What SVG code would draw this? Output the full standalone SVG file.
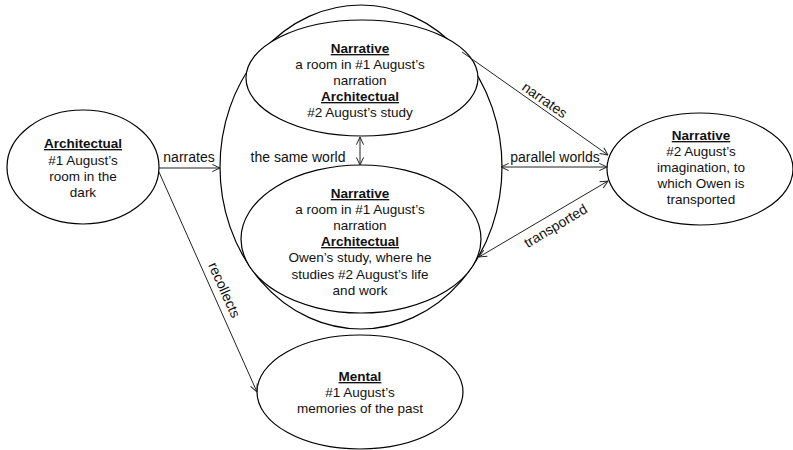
<svg xmlns="http://www.w3.org/2000/svg" width="793" height="450" viewBox="0 0 793 450">
<style>
.n{fill:#fff;stroke:#000;stroke-width:1.2}
.big{fill:none;stroke:#000;stroke-width:1.2}
text{font-family:"Liberation Sans",Arial,sans-serif;font-size:13.5px;fill:#111;text-anchor:middle}
.h{font-weight:bold;text-decoration:underline}
.e{font-size:14px}
.c{fill:none;stroke:#222;stroke-width:1}
</style>
<defs>
<marker id="ah" viewBox="0 0 10 10" refX="9.5" refY="5" markerWidth="9" markerHeight="9" orient="auto-start-reverse" markerUnits="userSpaceOnUse">
<path d="M1,1 L9.5,5 L1,9" fill="none" stroke="#222" stroke-width="1.1"/>
</marker>
</defs>
<rect width="793" height="450" fill="#fff"/>
<g id="world">
<ellipse class="big" cx="361" cy="167" rx="141" ry="162"/>
</g>
<g id="left">
<ellipse class="n" cx="83" cy="167" rx="76" ry="57"/>
<text x="83" y="148" class="h">Architectual</text>
<text x="83" y="165">#1 August’s</text>
<text x="83" y="181">room in the</text>
<text x="83" y="197">dark</text>
</g>
<g id="upper">
<ellipse class="n" cx="362" cy="78" rx="116" ry="58"/>
<text x="360" y="53" class="h">Narrative</text>
<text x="360" y="69">a room in #1 August’s</text>
<text x="360" y="85">narration</text>
<text x="360" y="101" class="h">Architectual</text>
<text x="360" y="117">#2 August’s study</text>
</g>
<g id="lower">
<ellipse class="n" cx="361" cy="239" rx="120" ry="74"/>
<text x="360" y="198" class="h">Narrative</text>
<text x="360" y="214">a room in #1 August’s</text>
<text x="360" y="230">narration</text>
<text x="360" y="246" class="h">Architectual</text>
<text x="360" y="262">Owen’s study, where he</text>
<text x="360" y="279">studies #2 August’s life</text>
<text x="360" y="295">and work</text>
</g>
<g id="right">
<ellipse class="n" cx="700" cy="169" rx="93" ry="56"/>
<text x="701" y="140" class="h">Narrative</text>
<text x="701" y="156">#2 August’s</text>
<text x="701" y="172">imagination, to</text>
<text x="701" y="188">which Owen is</text>
<text x="701" y="204">transported</text>
</g>
<g id="bottom">
<ellipse class="n" cx="360" cy="392" rx="103" ry="57"/>
<text x="360" y="381" class="h">Mental</text>
<text x="360" y="397">#1 August’s</text>
<text x="360" y="413">memories of the past</text>
</g>
<g id="connectors">
<line class="c" x1="159" y1="168" x2="220" y2="168" marker-end="url(#ah)"/>
<line class="c" x1="159" y1="172" x2="257" y2="392" marker-end="url(#ah)"/>
<line class="c" x1="360" y1="137" x2="360" y2="165" marker-start="url(#ah)" marker-end="url(#ah)"/>
<line class="c" x1="462" y1="52" x2="608" y2="155" marker-end="url(#ah)"/>
<line class="c" x1="501" y1="167" x2="607" y2="167" marker-start="url(#ah)" marker-end="url(#ah)"/>
<line class="c" x1="479" y1="257" x2="608" y2="181" marker-start="url(#ah)" marker-end="url(#ah)"/>
<text class="e" x="189" y="162">narrates</text>
<text class="e" x="298" y="162">the same world</text>
<text class="e" x="555" y="162">parallel worlds</text>
<text class="e" transform="translate(542,104) rotate(35)">narrates</text>
<text class="e" transform="translate(558,230) rotate(-31)">transported</text>
<text class="e" transform="translate(220,292) rotate(66)">recollects</text>
</g>
</svg>
